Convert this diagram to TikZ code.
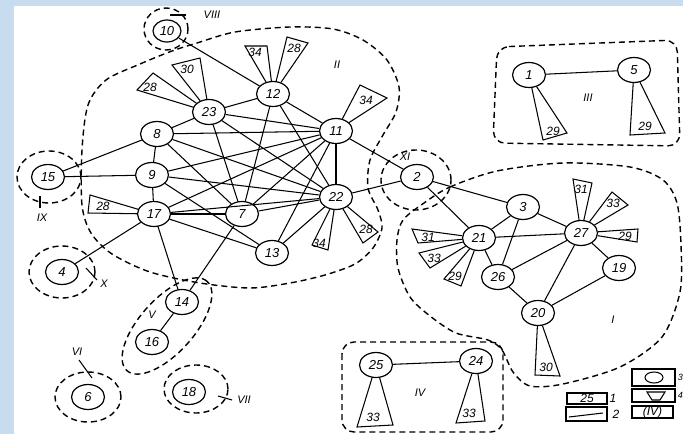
\documentclass[tikz,border=0pt]{standalone}
\usepackage{fontspec}
\setmainfont{Liberation Sans}
\usetikzlibrary{shapes.geometric}

\definecolor{slide}{RGB}{200,220,240}

\tikzset{
  site/.style={ellipse, draw, line width=1.2pt, minimum width=33pt, minimum height=25pt,
    inner sep=0pt, font=\fontsize{13}{13}\selectfont\itshape},
  zone/.style={line width=1.4pt, dash pattern=on 6pt off 4pt},
  link/.style={line width=1.05pt},
  tag/.style={inner sep=0pt, font=\fontsize{12}{12}\selectfont\itshape},
  roman/.style={inner sep=0pt, font=\fontsize{11}{11}\selectfont\itshape},
}

\begin{document}
\begin{tikzpicture}[x=1pt,y=-1pt]
\useasboundingbox (0,0) rectangle (683,434);
\fill[slide] (0,0) rectangle (683,434);
\fill[white] (14,6) rectangle (683,434);

% sites
\node[site,minimum width=28pt,minimum height=22pt] (n10) at (167,31) {10};
\foreach \n/\p in {12/{273,94},23/{209,112},8/{157,134},11/{336,131},9/{152,175},
    15/{48,177},17/{154,214},7/{242,214},22/{336,197},13/{272,253},2/{417,177},
    3/{523,207},21/{479,238},27/{581,233},26/{498,277},19/{619,268},20/{538,313},
    4/{62,272},14/{182,302},16/{152,342},6/{88,397},18/{189,392},25/{376,365},
    24/{476,361},1/{529,75},5/{634,70}}
  \node[site] (n\n) at (\p) {\n};

% links
\foreach \a/\b in {10/12,12/23,12/11,12/7,12/22,23/8,23/11,23/22,23/7,8/9,8/11,8/22,
    8/7,8/15,9/15,9/17,9/11,9/22,9/13,17/11,17/22,17/7,17/13,17/4,17/14,7/11,7/22,
    7/14,13/11,13/22,11/22,11/2,22/2,2/3,2/21,3/21,3/26,3/27,21/27,21/26,26/27,
    26/20,27/20,27/19,19/20,1/5,25/24,14/16}
  \draw[link] (n\a) -- (n\b);

% pendants: site / far corners / text position / text
\foreach \n/\a/\b/\t/\l in {23/{137,90}/{153,73}/{150,87}/28, 23/{172,65}/{200,58}/{187,69}/30,
    12/{245,46}/{267,46}/{255,52}/34, 12/{287,37}/{308,43}/{294,48}/28,
    11/{360,85}/{387,98}/{366,100}/34, 17/{90,195}/{88,213}/{103,206}/28,
    22/{312,245}/{328,250}/{319,243}/34, 22/{363,243}/{378,232}/{366,229}/28,
    1/{543,140}/{567,133}/{553,131}/29, 5/{630,135}/{665,133}/{645,126}/29,
    21/{412,229}/{418,243}/{428,237}/31, 21/{419,253}/{430,268}/{434,258}/33,
    21/{444,279}/{461,286}/{455,276}/29, 27/{573,179}/{592,183}/{581,189}/31,
    27/{612,192}/{628,205}/{613,203}/33, 27/{638,229}/{637,242}/{625,236}/29,
    20/{535,375}/{560,376}/{546,367}/30, 25/{357,427}/{393,425}/{373,417}/33,
    24/{456,423}/{485,421}/{469,413}/33}
  {\draw[link] (n\n) -- (\a) -- (\b) -- (n\n);
   \node[tag] at (\t) {\l};}

% zones
\draw[zone] plot[smooth cycle] coordinates {(197,43) (235,32) (290,27) (333,29) (363,40)
  (387,60) (399,87) (396,112) (383,135) (370,160) (368,188) (378,210) (382,228) (373,248)
  (355,264) (325,275) (290,283) (250,288) (200,283) (150,272) (112,254) (91,233) (82,205)
  (82,150) (88,105) (106,80) (140,64) (172,51)};
\draw[zone] plot[smooth cycle] coordinates {(424,203) (450,187) (497,171) (563,163)
  (630,167) (663,180) (677,203) (681,245) (680,292) (662,337) (620,367) (563,384)
  (530,386) (513,372) (502,350) (488,340) (456,333) (430,316) (410,297) (398,268)
  (397,240) (403,220)};
\draw[zone,rounded corners=12pt] (497,47) -- (677,40) -- (680,146) -- (493,143) -- cycle;
\draw[zone,rounded corners=12pt] (342,342) rectangle (503,432);
\draw[zone,rotate around={48:(167,326)}] (167,326) ellipse [x radius=60pt,y radius=27pt];
\draw[zone] (166,29) ellipse [x radius=22pt,y radius=21pt];
\draw[zone] (49,177) ellipse [x radius=32pt,y radius=26pt];
\draw[zone] (62,272) ellipse [x radius=33pt,y radius=26pt];
\draw[zone] (88,397) ellipse [x radius=33pt,y radius=25pt];
\draw[zone] (196,389) ellipse [x radius=32pt,y radius=24pt];
\draw[zone] (416,180) ellipse [x radius=35pt,y radius=30pt];

% zone numbers
\node[roman] at (337,65) {II};
\node[roman] at (588,98) {III};
\node[roman] at (613,320) {I};
\node[roman] at (420,393) {IV};
\node[roman] at (152,315) {V};
\node[roman] at (405,157) {XI};
\draw[link] (170,15) -- (186,15);   \node[roman] at (212,15) {VIII};
\draw[link] (40,196) -- (40,208);   \node[roman] at (42,218) {IX};
\draw[link] (86,268) -- (97,280);   \node[roman] at (104,284) {X};
\draw[link] (79,360) -- (92,378);   \node[roman] at (77,352) {VI};
\draw[link] (218,396) -- (232,400); \node[roman] at (244,400) {VII};

% key
\draw[link] (567,393) rectangle (607,404); \node[tag] at (587,398.5) {25};
\node[tag] at (613,398) {1};
\draw[link] (566,407) rectangle (607,421); \draw[link] (569,417) -- (603,413);
\node[tag] at (616,414) {2};
\draw[link] (632,369) rectangle (675,386);
\draw[link] (654,377.5) ellipse [x radius=9pt,y radius=5.5pt];
\node[tag,font=\fontsize{9}{9}\selectfont\itshape,anchor=east] at (683,377) {3};
\draw[link] (632,389) rectangle (675,402);
\draw[link] (647,392) -- (665,392) -- (660,400) -- (652,400) -- cycle;
\node[tag,font=\fontsize{9}{9}\selectfont\itshape,anchor=east] at (683,395) {4};
\draw[link] (632,406) rectangle (673,418); \node[tag] at (652.5,412) {(IV)};
\end{tikzpicture}
\end{document}
